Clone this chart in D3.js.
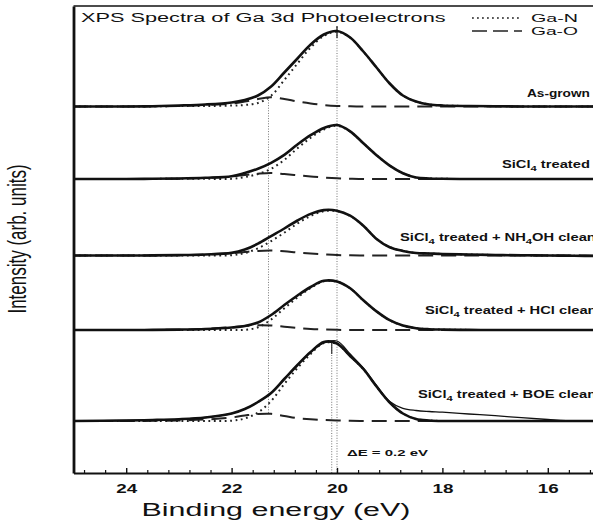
<!DOCTYPE html>
<html><head><meta charset="utf-8">
<script src="https://cdn.jsdelivr.net/npm/d3@7"></script>
<style>
html,body{margin:0;padding:0;background:#fff;}
svg{display:block;}
text{font-family:"Liberation Sans",Arial,Helvetica,sans-serif;fill:#111;}
</style>
</head><body>
<svg id="chart" width="593" height="521"></svg>
<script>
// Binding energy grid (eV) shared by every curve
const energy = [25, 24, 23.5, 23, 22.5, 22, 21.75, 21.5, 21.25, 21, 20.75, 20.5, 20.25, 20,
                19.75, 19.5, 19.25, 19, 18.75, 18.5, 18.25, 18, 17.5, 17, 16.5, 16, 15.5, 15];

// Sample names (drawn at the right of each spectrum)
const samples = ["As-grown", "SiCl4 treated", "SiCl4 treated + NH4OH cleaning",
                 "SiCl4 treated + HCl cleaning", "SiCl4 treated + BOE cleaning"];

// Vertical offset of each spectrum in the stack (arb. units)
const offsets = [366.5, 294, 217.5, 143, 52];

// Measured Ga 3d envelope (arb. units above each offset)
const asGrown      = [0, 0, 0.3, 1, 2, 4, 6.5, 11, 20, 34, 48, 62, 72, 75.5, 69, 55, 39, 23, 11, 5, 2, 1, 0.5, 0.3, 0, 0, 0, 0];
const sicl4        = [0, 0, 0.2, 0.5, 1.2, 2.7, 6, 10.3, 16.2, 24.1, 34.5, 43.8, 51, 54, 47.7, 35.7, 23.8, 13.4, 5.8, 1.5, 0.5, 0.2, 0, 0, 0, 0, 0, 0];
const sicl4Nh4oh   = [0, 0, 0.1, 0.4, 1, 2.6, 5.9, 11.8, 19.4, 27, 35, 41.6, 45.4, 44.8, 39.8, 29.8, 16.6, 8.3, 4.6, 2.5, 2, 1.5, 1, 0.5, 0.2, 0, -0.3, -0.5];
const sicl4Hcl     = [0, 0, 0.1, 0.4, 1, 2.5, 4, 7.5, 15, 25, 34.5, 43, 49.2, 48.5, 41.7, 29.7, 18.6, 9.8, 4.4, 1.8, 0.8, 0.4, 0.1, 0, 0, 0, 0, 0];
const sicl4Boe     = [0, 0.5, 1, 1.8, 3.5, 7.5, 12, 19, 28, 42, 56, 69, 79, 77.5, 65, 52, 34.5, 18.5, 7.5, 2, 0.5, 0, 0, 0, 0, 0, 0, 0];
// Raw BOE trace, which keeps a tail on the low binding energy side
const sicl4BoeRaw  = [0, 0.5, 1, 1.8, 3.5, 7.5, 12, 19, 28, 42, 56, 69, 78, 80, 67, 53, 35.5, 19.5, 12.7, 10.5, 9.5, 8.8, 7, 5.3, 3.3, 1.5, 0, 0];

// Fitted Ga-N component
const gaN = [
  [0, 0, 0.1, 0.5, 0.5, 1, 1.5, 3.5, 10.8, 26.5, 43, 59, 70.5, 74.9, 68.8, 55, 39, 23, 11, 5, 2, 1, 0.5, 0.3, 0, 0, 0, 0],
  [0, 0, 0.1, 0.2, 0.2, 0.2, 2, 5, 10.2, 19.1, 30.7, 41.2, 49.5, 53.3, 47.4, 35.7, 23.8, 13.4, 5.8, 1.5, 0.5, 0.2, 0, 0, 0, 0, 0, 0],
  [0, 0, 0, 0.1, 0, 0.3, 2.4, 7.2, 14.4, 22.8, 32, 39.6, 44.2, 44.3, 39.6, 29.8, 16.6, 8.3, 4.6, 2.5, 2, 1.5, 1, 0.5, 0.2, 0, -0.3, -0.5],
  [0, 0, 0, 0.1, 0, 0, 0.2, 2.7, 10.5, 21.7, 32.5, 42, 48.7, 48.3, 41.7, 29.7, 18.6, 9.8, 4.4, 1.8, 0.8, 0.4, 0.1, 0, 0, 0, 0, 0],
  [0, 0, 0, 0, 0, 0.3, 2.5, 8.5, 20, 37, 53, 67, 78, 77, 64.8, 52, 34.5, 18.5, 7.5, 2, 0.5, 0, 0, 0, 0, 0, 0, 0]
];

// Fitted Ga-O component
const gaO = [
  [0, 0, 0.2, 0.5, 1.5, 3, 5, 7.5, 9.2, 7.5, 5, 3, 1.5, 0.6, 0.2, 0, 0, 0, 0, 0, 0, 0, 0, 0, 0, 0, 0, 0],
  [0, 0, 0.1, 0.3, 1, 2.5, 4, 5.3, 6, 5, 3.8, 2.6, 1.5, 0.7, 0.3, 0, 0, 0, 0, 0, 0, 0, 0, 0, 0, 0, 0, 0],
  [0, 0, 0.1, 0.3, 1, 2.3, 3.5, 4.6, 5, 4.2, 3, 2, 1.2, 0.5, 0.2, 0, 0, 0, 0, 0, 0, 0, 0, 0, 0, 0, 0, 0],
  [0, 0, 0.1, 0.3, 1.2, 2.8, 4, 4.8, 4.5, 3.3, 2, 1, 0.5, 0.2, 0, 0, 0, 0, 0, 0, 0, 0, 0, 0, 0, 0, 0, 0],
  [0, 0, 0.2, 0.5, 1.5, 3.5, 5.5, 7, 7.2, 5, 2.8, 1.8, 1, 0.5, 0.2, 0, 0, 0, 0, 0, 0, 0, 0, 0, 0, 0, 0, 0]
];

const envelopes = [asGrown, sicl4, sicl4Nh4oh, sicl4Hcl, sicl4Boe];

// Peak positions (eV) and shift annotation
const gaNPeak = 20.0;      // as-grown Ga-N peak
const gaNPeakBoe = 20.1;   // Ga-N peak after BOE cleaning
const gaOPeak = 21.3;      // Ga-O component position
const shiftLabel = "ΔE = 0.2 eV";

// Axis ticks
const majorTicks = [24, 22, 20, 18, 16];
const minorTicks = d3.range(0, 25).map(i => +(15.2 + i * 0.4).toFixed(1)).filter(v => v <= 25);

const svg = d3.select("#chart");
const plot = {left: 73.5, right: 600.5, top: 6, bottom: 473};

const x = d3.scaleLinear().domain([25, 15]).range([plot.left, plot.right]);
const y = d3.scaleLinear().domain([0, 467]).range([plot.bottom, plot.top]);

svg.append("defs").append("clipPath").attr("id", "clip")
  .append("rect").attr("x", plot.left).attr("y", plot.top)
  .attr("width", plot.right - plot.left).attr("height", plot.bottom - plot.top);

// Horizontally stretch a text element about its anchor point
function stretch(sel, sx) {
  sel.each(function () {
    const t = d3.select(this), tx = +t.attr("x"), ty = +t.attr("y");
    t.attr("transform", `translate(${tx},${ty}) scale(${sx},1) translate(${-tx},${-ty})`);
  });
}
function fitWidth(sel, w) {
  let s = 1;
  sel.each(function () { s = w / this.getComputedTextLength(); });
  stretch(sel, s);
  return s;
}

const g = svg.append("g").attr("clip-path", "url(#clip)");

const curve = (offset) => d3.line()
  .x((d, i) => x(energy[i]))
  .y(d => y(offset + d))
  .curve(d3.curveCatmullRom.alpha(0.5));

// Vertical guide lines at peak positions
const guide = g.append("g").attr("stroke", "#666").attr("stroke-width", 0.9)
  .attr("stroke-dasharray", "1,1.6").attr("fill", "none");
const agPeakIdx = energy.indexOf(gaNPeak);
const oxIdx = energy.indexOf(21.25);
guide.append("line")
  .attr("x1", x(gaNPeak)).attr("x2", x(gaNPeak))
  .attr("y1", y(offsets[0] + asGrown[agPeakIdx]) - 4).attr("y2", plot.bottom);
guide.append("line")
  .attr("x1", x(gaNPeakBoe)).attr("x2", x(gaNPeakBoe))
  .attr("y1", y(offsets[4] + d3.max(sicl4Boe))).attr("y2", plot.bottom);
guide.append("line")
  .attr("x1", x(gaOPeak)).attr("x2", x(gaOPeak))
  .attr("y1", y(offsets[0] + gaO[0][oxIdx])).attr("y2", y(offsets[4] + gaO[4][oxIdx]));

// Short solid markers at the peaks
g.append("line").attr("stroke", "#111").attr("stroke-width", 1.2)
  .attr("x1", x(gaNPeak)).attr("x2", x(gaNPeak))
  .attr("y1", y(offsets[0] + asGrown[agPeakIdx]) - 5).attr("y2", y(offsets[0] + asGrown[agPeakIdx]) + 7);
g.append("line").attr("stroke", "#333").attr("stroke-width", 1.2)
  .attr("x1", x(gaNPeakBoe)).attr("x2", x(gaNPeakBoe))
  .attr("y1", y(offsets[4] + d3.max(sicl4Boe))).attr("y2", y(offsets[4] + d3.max(sicl4Boe)) + 12);

// Spectra
envelopes.forEach((env, k) => {
  const off = offsets[k];
  g.append("path").attr("d", curve(off)(gaO[k]))
    .attr("fill", "none").attr("stroke", "#222").attr("stroke-width", 2)
    .attr("stroke-dasharray", "15,8");
  g.append("path").attr("d", curve(off)(gaN[k]))
    .attr("fill", "none").attr("stroke", "#222").attr("stroke-width", 2)
    .attr("stroke-dasharray", "1.8,3.6");
  g.append("path").attr("d", curve(off)(env))
    .attr("fill", "none").attr("stroke", "#111").attr("stroke-width", 2.6);
});
g.append("path").attr("d", curve(offsets[4])(sicl4BoeRaw))
  .attr("fill", "none").attr("stroke", "#111").attr("stroke-width", 1.3);

// Axes
const xAxis = svg.append("g").attr("transform", `translate(0,${plot.bottom})`)
  .call(d3.axisBottom(x).tickValues(majorTicks).tickSize(-5).tickSizeOuter(0).tickPadding(11).tickFormat(d3.format("d")));
xAxis.select(".domain").attr("stroke", "#111").attr("stroke-width", 2);
xAxis.selectAll(".tick line").attr("stroke", "#111").attr("stroke-width", 1.4);
xAxis.selectAll(".tick text").attr("font-size", 13).attr("font-weight", "bold")
  .attr("font-family", "Liberation Sans, Arial, sans-serif").attr("fill", "#111")
  .attr("transform", "scale(1.45,1)");
const xMinor = svg.append("g").attr("transform", `translate(0,${plot.bottom})`)
  .call(d3.axisBottom(x).tickValues(minorTicks.filter(v => !majorTicks.includes(v)))
    .tickSize(-3).tickSizeOuter(0).tickFormat(""));
xMinor.select(".domain").remove();
xMinor.selectAll(".tick line").attr("stroke", "#111").attr("stroke-width", 1.2);

const yAxis = svg.append("g").attr("transform", `translate(${plot.left},0)`)
  .call(d3.axisLeft(y).tickValues([]).tickSizeOuter(0));
yAxis.select(".domain").attr("stroke", "#111").attr("stroke-width", 2.8);

// Top frame edge
svg.append("line").attr("x1", plot.left).attr("x2", 593).attr("y1", plot.top).attr("y2", plot.top)
  .attr("stroke", "#111").attr("stroke-width", 1.6);

// Axis titles
const xt = svg.append("text").attr("x", 276).attr("y", 516).attr("text-anchor", "middle")
  .attr("font-size", 19).text("Binding energy (eV)");
fitWidth(xt, 269);
svg.append("text").attr("text-anchor", "middle").attr("font-size", 17)
  .attr("transform", "translate(26,239) scale(1.5,1) rotate(-90)")
  .text("Intensity (arb. units)");

// Title
const tt = svg.append("text").attr("x", 81).attr("y", 22).attr("font-size", 13.5)
  .text("XPS Spectra of Ga 3d Photoelectrons");
fitWidth(tt, 365);

// Legend
const legend = [
  {name: "Ga-N", dash: "1.8,3.2"},
  {name: "Ga-O", dash: "15,6"}
];
legend.forEach((d, i) => {
  const ly = 18 + i * 13;
  svg.append("line").attr("x1", 472).attr("x2", 522).attr("y1", ly).attr("y2", ly)
    .attr("stroke", "#222").attr("stroke-width", 1.6).attr("stroke-dasharray", d.dash);
  const t = svg.append("text").attr("x", 531).attr("y", ly + 4.5).attr("font-size", 11.5).text(d.name);
  fitWidth(t, 47);
});

// Sample labels
const labelPos = [[527, 100], [502, 171], [400, 244], [425, 317], [418, 401]];
let labelScale = 1.3;
samples.forEach((name, k) => {
  const t = svg.append("text").attr("x", labelPos[k][0]).attr("y", labelPos[k][1])
    .attr("font-size", 10.5).attr("font-weight", "bold");
  const parts = name.split(/(4)/);
  parts.forEach(p => {
    if (p === "4") t.append("tspan").attr("font-size", 8).attr("dy", 3).text("4");
    else if (p.length) t.append("tspan").attr("dy", t.selectAll("tspan").size() ? -3 : 0).text(p);
  });
  if (k === 0) fitWidth(t, 63);
  else if (k === 1) labelScale = fitWidth(t, 88);
  else stretch(t, labelScale);
});

// Shift annotation
const dt = svg.append("text").attr("x", 347).attr("y", 456).attr("font-size", 9.5).attr("font-weight", "bold")
  .text(shiftLabel);
fitWidth(dt, 81);
</script>
</body></html>
